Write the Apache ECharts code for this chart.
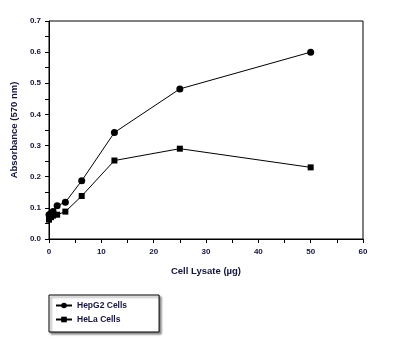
<!DOCTYPE html>
<html><head><meta charset="utf-8">
<script src="https://cdn.jsdelivr.net/npm/echarts@6/dist/echarts.min.js"></script>
<style>html,body{margin:0;padding:0;background:#fff}#c{width:407px;height:341px}</style>
</head><body><div id="c"></div>
<script>
const lysate = [0, 0.39, 0.78, 1.56, 3.125, 6.25, 12.5, 25, 50];
const hepg2 = [0.078, 0.082, 0.088, 0.107, 0.118, 0.187, 0.342, 0.482, 0.600];
const hela = [0.062, 0.070, 0.075, 0.078, 0.088, 0.138, 0.252, 0.290, 0.230];
const xTicks = [0, 10, 20, 30, 40, 50, 60];
const yTicks = [0, 0.1, 0.2, 0.3, 0.4, 0.5, 0.6, 0.7];
const names = ['HepG2 Cells', 'HeLa Cells'];

const txt = '#14143a';
const font = 'Arial, "Liberation Sans", sans-serif';
const chart = echarts.init(document.getElementById('c'));
const axisCommon = {
  axisLine: {show: true, lineStyle: {color: '#000', width: 1}},
  axisTick: {show: true, inside: false, length: 4, lineStyle: {color: '#000'}},
  minorTick: {show: true, splitNumber: 2, length: 4, lineStyle: {color: '#000'}},
  splitLine: {show: false},
  nameLocation: 'middle',
  nameTextStyle: {fontFamily: font, fontWeight: 'bold', fontSize: 9.5, color: txt}
};
chart.setOption({
  animation: false,
  backgroundColor: '#fff',
  grid: {left: 49, right: 44, top: 21, bottom: 102, show: true, borderColor: '#000', borderWidth: 1, containLabel: false},
  xAxis: Object.assign({}, axisCommon, {
    type: 'value', min: xTicks[0], max: xTicks[xTicks.length - 1], interval: 10,
    name: 'Cell Lysate (µg)', nameGap: 27,
    axisLabel: {fontFamily: font, fontWeight: 'bold', fontSize: 8, color: txt, margin: 9}
  }),
  yAxis: Object.assign({}, axisCommon, {
    type: 'value', min: yTicks[0], max: yTicks[yTicks.length - 1], interval: 0.1,
    name: 'Absorbance (570 nm)', nameGap: 30,
    axisLabel: {fontFamily: font, fontWeight: 'bold', fontSize: 8, color: txt, margin: 8,
      formatter: v => v.toFixed(1)}
  }),
  legend: {
    orient: 'vertical', left: 49, top: 295, width: 103,
    padding: [6, 32, 8, 6], itemGap: 5, itemWidth: 16, itemHeight: 7,
    backgroundColor: '#fff', borderColor: '#000', borderWidth: 1,
    shadowColor: 'rgba(0,0,0,0.45)', shadowBlur: 2, shadowOffsetX: 2, shadowOffsetY: 2,
    textStyle: {fontFamily: font, fontWeight: 'bold', fontSize: 8.5, color: txt},
    data: names
  },
  series: [
    {name: names[0], type: 'line', data: lysate.map((x, i) => [x, hepg2[i]]),
     symbol: 'circle', symbolSize: 7, itemStyle: {color: '#000'}, lineStyle: {color: '#000', width: 1}},
    {name: names[1], type: 'line', data: lysate.map((x, i) => [x, hela[i]]),
     symbol: 'rect', symbolSize: 6, itemStyle: {color: '#000'}, lineStyle: {color: '#000', width: 1}}
  ]
});
</script></body></html>
